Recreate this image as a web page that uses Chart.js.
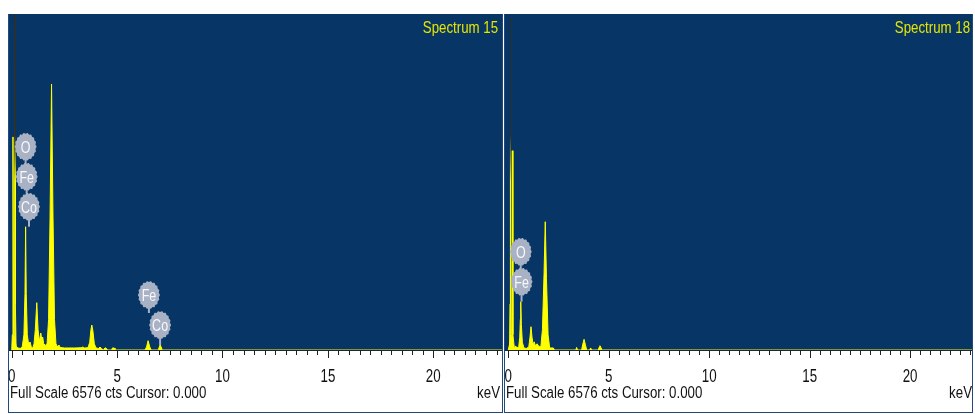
<!DOCTYPE html>
<html>
<head>
<meta charset="utf-8">
<script src="https://cdn.jsdelivr.net/npm/chart.js@4/dist/chart.umd.min.js"></script>
<style>
  html, body { margin: 0; padding: 0; background: #fff; width: 975px; height: 414px; overflow: hidden; }
  .panel { position: absolute; top: 14px; height: 399px; box-sizing: border-box;
           border: 1px solid #22497c; border-top: none; background: #fff; }
  #p15 { left: 8px; width: 495px; }
  #p18 { left: 504px; width: 469px; }
  canvas { display: block; }
</style>
</head>
<body>
<div class="panel" id="p15"><canvas id="c15" width="493" height="398"></canvas></div>
<div class="panel" id="p18"><canvas id="c18" width="467" height="398"></canvas></div>
<script>
// ---- Spectrum data (energy in keV, intensity in counts) ----
const FULL_SCALE = 6576;
const CURSOR = '0.000';

// Spectrum 15
const s15KeV = [0.00, 0.03, 0.06, 0.09, 0.22, 0.30, 0.40, 0.50, 0.58, 0.63, 0.66, 0.69, 0.74, 0.80, 0.87, 0.93,
                1.00, 1.06, 1.12, 1.19, 1.25, 1.31, 1.38, 1.43, 1.47, 1.52, 1.60, 1.68, 1.75, 1.82, 1.89, 1.96,
                2.03, 2.10, 2.18, 2.24, 2.30, 2.50, 3.00, 3.30, 3.38, 3.45, 3.62, 3.70, 3.76, 3.80, 3.85, 3.92,
                4.00, 4.12, 4.19, 4.26, 4.35, 4.42, 4.47, 4.55, 4.74, 4.78, 4.86, 4.90, 6.32, 6.40, 6.47, 6.55,
                6.62, 6.96, 7.00, 7.04, 7.09, 7.14, 23.3];
const s15Cts = [0, 300, 4170, 300, 60, 40, 30, 60, 300, 1100, 2413, 1100, 300, 120, 157, 60,
                40, 120, 400, 926, 400, 160, 333, 200, 254, 120, 90, 130, 600, 2600, 5206, 2600,
                600, 120, 60, 98, 50, 40, 40, 45, 59, 40, 45, 150, 400, 489, 380, 120,
                40, 30, 59, 30, 0, 40, 40, 0, 0, 40, 40, 0, 0, 60, 182, 60,
                0, 0, 60, 98, 60, 0, 0];
const s15StrobeKeV = [0.11, 0.14, 0.157, 0.175, 0.21];
const s15StrobeCts = [0, 900, 6560, 900, 0];
// element markers: each group is listed bottom-up and shares one pin
const s15MarkerEl  = [['Co', 'Fe', 'O'], ['Co', 'Fe']];
const s15MarkerKeV = [[0.82, 0.71, 0.66], [7.04, 6.51]];
const s15MarkerTip = [2413, 98];

// Spectrum 18
const s18KeV = [0.00, 0.17, 0.20, 0.23, 0.30, 0.37, 0.42, 0.52, 0.57, 0.60, 0.62, 0.65, 0.70, 0.78, 0.90,
                1.02, 1.08, 1.13, 1.18, 1.24, 1.29, 1.34, 1.44, 1.50, 1.62, 1.70, 1.78, 1.84, 1.90, 1.98,
                2.06, 2.24, 2.30, 3.36, 3.40, 3.45, 3.65, 3.70, 3.77, 3.84, 3.90, 4.05, 4.10, 4.15,
                4.48, 4.53, 4.56, 4.61, 4.66, 23.1];
const s18Cts = [0, 300, 3900, 300, 40, 80, 40, 60, 250, 600, 945, 500, 150, 40, 30,
                60, 250, 456, 250, 100, 160, 90, 120, 80, 60, 400, 1500, 2511, 1400, 300,
                40, 40, 0, 0, 50, 0, 0, 100, 209, 100, 0, 0, 40, 0,
                0, 60, 84, 50, 0, 0];
const s18StrobeKeV = [0.06, 0.085, 0.10, 0.115, 0.14];
const s18StrobeCts = [0, 900, 6500, 900, 0];
const s18MarkerEl  = [['Fe', 'O']];
const s18MarkerKeV = [[0.66, 0.62]];
const s18MarkerTip = [945];

// ---- Styling ----
const FONT = '"Liberation Sans", Arial, sans-serif';
const BG = '#073566';
const PEAK = '#ffff00';
const BUBBLE = '#a8b2c4';

const toPoints = (xs, ys) => xs.map((x, i) => ({ x, y: ys[i] }));

// narrow lettering: horizontally condensed text
function narrowText(ctx, text, x, y, align, squeeze) {
  ctx.save();
  ctx.translate(x, y);
  ctx.scale(squeeze, 1);
  ctx.textAlign = align;
  ctx.fillText(text, 0, 0);
  ctx.restore();
}

// blue plot field behind the spectrum
const fieldPlugin = {
  id: 'field',
  beforeDatasetsDraw(chart) {
    const { ctx, chartArea: a } = chart;
    ctx.save();
    ctx.fillStyle = BG;
    ctx.fillRect(a.left, a.top, a.right - a.left, a.bottom - a.top);
    ctx.restore();
  }
};

// energy axis: base line, half-keV ticks (longer every 5 keV) and the scale's labels
const tickPlugin = {
  id: 'keVTicks',
  afterDraw(chart) {
    const { ctx, chartArea: a, scales: { x } } = chart;
    ctx.save();
    ctx.strokeStyle = '#1d2633';
    ctx.lineWidth = 1;
    ctx.beginPath();
    ctx.moveTo(a.left, a.bottom + 0.5);
    ctx.lineTo(a.right, a.bottom + 0.5);
    ctx.stroke();
    ctx.strokeStyle = '#222';
    ctx.beginPath();
    for (let i = 0; i * 0.5 <= x.max; i++) {
      const px = Math.round(x.getPixelForValue(i * 0.5)) + 0.5;
      const len = (i % 10 === 0) ? 8 : 5;
      ctx.moveTo(px, a.bottom);
      ctx.lineTo(px, a.bottom + len);
    }
    ctx.stroke();
    ctx.fillStyle = '#111';
    ctx.font = '18px ' + FONT;
    ctx.textBaseline = 'alphabetic';
    x.ticks.forEach(t => {
      if (t.label) narrowText(ctx, String(t.label), x.getPixelForValue(t.value), a.bottom + 32, 'center', 0.74);
    });
    ctx.restore();
  }
};

// element identification bubbles
function bubble(ctx, cx, cy, text) {
  const rx = 10.5, ry = 13.5;
  ctx.beginPath();
  for (let i = 0; i <= 96; i++) {
    const t = i / 96 * Math.PI * 2;
    const k = 1 + 0.045 * Math.cos(18 * t);
    const px = cx + rx * k * Math.cos(t), py = cy + ry * k * Math.sin(t);
    if (i === 0) ctx.moveTo(px, py); else ctx.lineTo(px, py);
  }
  ctx.closePath();
  ctx.fillStyle = BUBBLE;
  ctx.fill();
  ctx.fillStyle = '#f6f8fc';
  ctx.font = '16px ' + FONT;
  ctx.textBaseline = 'alphabetic';
  narrowText(ctx, text, cx, cy + 6, 'center', 0.78);
}

const markerPlugin = {
  id: 'markers',
  afterDatasetsDraw(chart, args, opts) {
    const { ctx, scales: { x, y } } = chart;
    ctx.save();
    opts.elements.forEach((group, g) => {
      const tipY = y.getPixelForValue(opts.tips[g]);
      group.forEach((el, i) => {
        const cx = x.getPixelForValue(opts.keV[g][i]);
        const cy = tipY - 20 - 30 * i;
        ctx.strokeStyle = BUBBLE;
        ctx.lineWidth = 2;
        ctx.beginPath();
        ctx.moveTo(cx, cy + 12);
        ctx.lineTo(cx, i === 0 ? tipY : cy + 18);
        ctx.stroke();
        bubble(ctx, cx, cy, el);
      });
    });
    ctx.restore();
  }
};

// spectrum name and status line
const captionPlugin = {
  id: 'captions',
  afterDraw(chart, args, opts) {
    const { ctx, width, chartArea: a } = chart;
    ctx.save();
    ctx.textBaseline = 'alphabetic';
    ctx.font = '17px ' + FONT;
    ctx.fillStyle = '#e6e600';
    narrowText(ctx, opts.name, width - opts.nameInset, a.top + 19, 'right', 0.78);
    ctx.font = '16px ' + FONT;
    ctx.fillStyle = '#111';
    narrowText(ctx, 'Full Scale ' + FULL_SCALE + ' cts Cursor: ' + CURSOR, 1, 384, 'left', 0.83);
    narrowText(ctx, 'keV', width - opts.unitInset, 384, 'right', 0.83);
    ctx.restore();
  }
};

function strobeColor(ctx) {
  const area = ctx.chart.chartArea;
  if (!area) return PEAK;
  const g = ctx.chart.ctx.createLinearGradient(0, area.top, 0, area.bottom);
  g.addColorStop(0, '#2c2e2a');
  g.addColorStop(0.36, '#2c2e2a');
  g.addColorStop(0.5, PEAK);
  g.addColorStop(1, PEAK);
  return g;
}

function makeChart(id, cfg) {
  return new Chart(document.getElementById(id), {
    type: 'line',
    data: {
      datasets: [
        { label: 'strobe', data: toPoints(cfg.strobeKeV, cfg.strobeCts), order: 0,
          borderColor: strobeColor, backgroundColor: PEAK, fill: 'origin', borderWidth: 1 },
        { label: cfg.name, data: toPoints(cfg.keV, cfg.cts), order: 1,
          borderColor: PEAK, backgroundColor: PEAK, fill: 'origin', borderWidth: 1 }
      ]
    },
    options: {
      responsive: false,
      animation: false,
      devicePixelRatio: 1,
      layout: { padding: 0, autoPadding: false },
      elements: { point: { radius: 0 }, line: { tension: 0 } },
      plugins: {
        legend: { display: false },
        tooltip: { enabled: false },
        markers: { elements: cfg.markerEl, keV: cfg.markerKeV, tips: cfg.markerTip },
        captions: { name: cfg.name, nameInset: cfg.nameInset, unitInset: cfg.unitInset }
      },
      scales: {
        x: {
          type: 'linear', position: 'bottom', min: cfg.min, max: cfg.max,
          grid: { display: false, drawTicks: false },
          border: { display: false },
          ticks: {
            display: false, stepSize: 5, autoSkip: false, maxRotation: 0, includeBounds: false,
            callback: v => (v % 5 === 0 ? String(v) : '')
          },
          afterFit(scale) { scale.height = 62; scale.paddingLeft = 0; scale.paddingRight = 0; }
        },
        y: { display: false, min: 0, max: FULL_SCALE }
      }
    },
    plugins: [fieldPlugin, tickPlugin, markerPlugin, captionPlugin]
  });
}

makeChart('c15', {
  name: 'Spectrum 15', keV: s15KeV, cts: s15Cts, strobeKeV: s15StrobeKeV, strobeCts: s15StrobeCts,
  markerEl: s15MarkerEl, markerKeV: s15MarkerKeV, markerTip: s15MarkerTip,
  min: -0.128, max: 23.26, nameInset: 4, unitInset: 2
});
makeChart('c18', {
  name: 'Spectrum 18', keV: s18KeV, cts: s18Cts, strobeKeV: s18StrobeKeV, strobeCts: s18StrobeCts,
  markerEl: s18MarkerEl, markerKeV: s18MarkerKeV, markerTip: s18MarkerTip,
  min: -0.164, max: 23.08, nameInset: 2, unitInset: 0
});
</script>
</body>
</html>
